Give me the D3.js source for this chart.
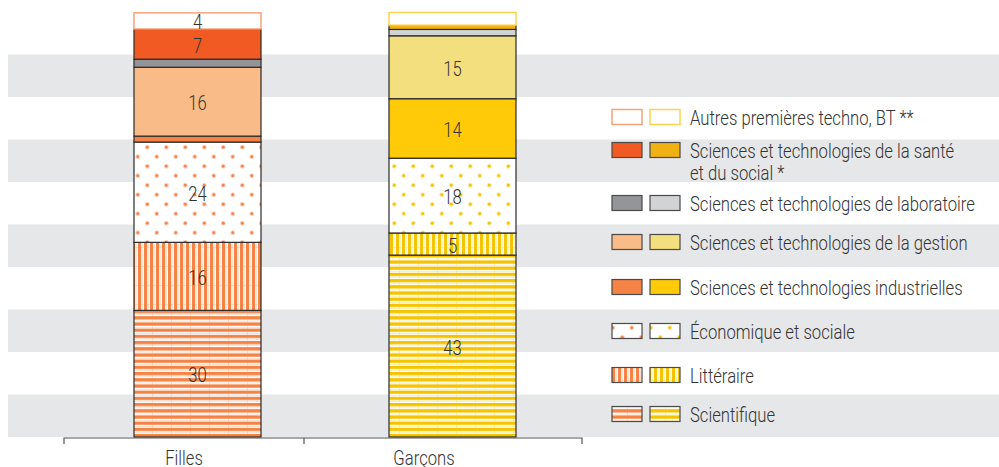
<!DOCTYPE html>
<html>
<head>
<meta charset="utf-8">
<script src="https://cdn.jsdelivr.net/npm/d3@7"></script>
<style>
  html, body { margin: 0; padding: 0; background: #ffffff; }
  svg { display: block; }
  text { font-family: Roboto, "Liberation Sans", sans-serif; font-weight: 300; fill: #333333; }
</style>
</head>
<body>
<svg id="chart" width="999" height="467"></svg>
<script>
// ---------- DATA ----------
const categories = ["Filles", "Garçons"];
const seriesKeys = [
  "Scientifique",
  "Littéraire",
  "Économique et sociale",
  "Sciences et technologies industrielles",
  "Sciences et technologies de la gestion",
  "Sciences et technologies de laboratoire",
  "Sciences et technologies de la santé et du social *",
  "Autres premières techno, BT **"
];
const fillesValues  = [29.8, 16.0, 23.6, 1.4, 16.2, 1.9, 7.1, 3.8];
const garconsValues = [42.8, 5.2, 17.6, 14.0, 14.8, 1.5, 1.0, 3.0];
const legendLabels = [
  ["Autres premières techno, BT **"],
  ["Sciences et technologies de la santé", "et du social *"],
  ["Sciences et technologies de laboratoire"],
  ["Sciences et technologies de la gestion"],
  ["Sciences et technologies industrielles"],
  ["Économique et sociale"],
  ["Littéraire"],
  ["Scientifique"]
];

// ---------- STYLE / LAYOUT ----------
const W = 999, H = 467;
const FS = 19.5;
const orange = "#f58345", yellow = "#f5c400";
const styleF = [
  {fill: "url(#hs-o)"}, {fill: "url(#vs-o)"}, {fill: "url(#dt-o)"},
  {fill: "#f58345"}, {fill: "#f9bb87"}, {fill: "#939598"}, {fill: "#f15a22"},
  {fill: "#ffffff", stroke: "#f7a377"}
];
const styleG = [
  {fill: "url(#hs-y)"}, {fill: "url(#vs-y)"}, {fill: "url(#dt-y)"},
  {fill: "#ffcb08"}, {fill: "#f4df7e"}, {fill: "#d1d3d4"}, {fill: "#f0b114"},
  {fill: "#ffffff", stroke: "#fcd44a"}
];
const styles = {"Filles": styleF, "Garçons": styleG};
const legendRowY = [117, 150, 203, 242, 287, 331, 375, 414];

const svg = d3.select("#chart");
const defs = svg.append("defs");

// condensed text: measure natural width of a reference string, squeeze horizontally
const probe = svg.append("text").attr("font-size", FS).text("Sciences et technologies de laboratoire");
const SX = 285 / probe.node().getComputedTextLength();
probe.remove();

function ctext(parent, x, yy, lines, anchor) {
  const g = parent.append("g").attr("transform", `translate(${x},${yy}) scale(${SX},1)`);
  const t = g.append("text").attr("font-size", FS).attr("dominant-baseline", "central")
    .attr("text-anchor", anchor || "start");
  lines.forEach((line, li) => {
    t.append("tspan").attr("x", 0).attr("dy", li === 0 ? 0 : 22).text(line);
  });
  return t;
}

function hStripe(id, c) {
  const p = defs.append("pattern").attr("id", id).attr("patternUnits", "userSpaceOnUse")
    .attr("width", 19).attr("height", 6.2);
  p.append("rect").attr("width", 19).attr("height", 6.2).attr("fill", "#fff");
  p.append("rect").attr("y", 0).attr("width", 19).attr("height", 3.3).attr("fill", c);
  p.append("rect").attr("y", 4.5).attr("width", 19).attr("height", 0.8).attr("fill", c).attr("opacity", 0.3);
  p.append("rect").attr("x", 0).attr("width", 0.8).attr("height", 6.2).attr("fill", c).attr("opacity", 0.25);
}
function vStripe(id, c) {
  const p = defs.append("pattern").attr("id", id).attr("patternUnits", "userSpaceOnUse")
    .attr("width", 6).attr("height", 19);
  p.append("rect").attr("width", 6).attr("height", 19).attr("fill", "#fff");
  p.append("rect").attr("x", 0).attr("width", 3.2).attr("height", 19).attr("fill", c);
  p.append("rect").attr("x", 4.3).attr("width", 0.8).attr("height", 19).attr("fill", c).attr("opacity", 0.3);
  p.append("rect").attr("y", 0).attr("width", 6).attr("height", 0.8).attr("fill", c).attr("opacity", 0.25);
}
function dots(id, c) {
  const p = defs.append("pattern").attr("id", id).attr("patternUnits", "userSpaceOnUse")
    .attr("width", 19).attr("height", 19);
  p.append("rect").attr("width", 19).attr("height", 19).attr("fill", "#fff");
  [[4.75, 4.75], [14.25, 14.25]].forEach(([cx, cy]) => {
    p.append("circle").attr("cx", cx).attr("cy", cy).attr("r", 2.5).attr("fill", c).attr("opacity", 0.3);
    p.append("circle").attr("cx", cx).attr("cy", cy).attr("r", 1.4).attr("fill", c);
  });
}
hStripe("hs-o", orange); hStripe("hs-y", yellow);
vStripe("vs-o", orange); vStripe("vs-y", yellow);
dots("dt-o", orange); dots("dt-y", yellow);

// ---------- SCALES ----------
const y = d3.scaleLinear().domain([0, 100]).range([437, 12]);
const xBar = d3.scaleBand().domain(categories).range([70, 580]);
const xLab = d3.scaleBand().domain(categories).range([64, 544]);
const barW = 127;

// background bands
svg.append("g").selectAll("rect").data(d3.range(0, 100, 20)).join("rect")
  .attr("x", 8).attr("width", W - 8)
  .attr("y", d => y(d + 10)).attr("height", d => y(d) - y(d + 10))
  .attr("fill", "#e6e7e8");

// stacked data
const table = categories.map((c, i) => {
  const vals = i === 0 ? fillesValues : garconsValues;
  const row = {cat: c};
  seriesKeys.forEach((k, j) => row[k] = vals[j]);
  return row;
});
const stacked = d3.stack().keys(seriesKeys)(table);

const gBars = svg.append("g");
const gLabels = svg.append("g");
stacked.forEach((layer, si) => {
  layer.forEach((seg, ci) => {
    const cat = categories[ci];
    const st = styles[cat][si];
    const x0 = xBar(cat) + (xBar.bandwidth() - barW) / 2;
    gBars.append("rect")
      .attr("x", x0).attr("width", barW)
      .attr("y", y(seg[1])).attr("height", y(seg[0]) - y(seg[1]))
      .attr("fill", st.fill)
      .attr("stroke", st.stroke || "#2a2a2a")
      .attr("stroke-width", st.stroke ? 1.5 : 1.2);
    const v = seg[1] - seg[0];
    if (v >= 3.5) {
      ctext(gLabels, x0 + barW / 2, (y(seg[0]) + y(seg[1])) / 2 + 1, [String(Math.round(v))], "middle");
    }
  });
});

// x axis
const gAxis = svg.append("g");
gAxis.append("path")
  .attr("d", d3.line()([[64, 444], [64, 438], [582, 438], [582, 444]]))
  .attr("fill", "none").attr("stroke", "#555").attr("stroke-width", 1.2);
gAxis.append("line").attr("x1", 304).attr("x2", 304).attr("y1", 438).attr("y2", 444)
  .attr("stroke", "#555").attr("stroke-width", 1.2);
categories.forEach(c => ctext(gAxis, xLab(c) + xLab.bandwidth() / 2, 457, [c], "middle"));

// legend
const legendOrder = seriesKeys.slice().reverse();
const gLeg = svg.append("g");
legendOrder.forEach((k, i) => {
  const si = seriesKeys.indexOf(k);
  const cy = legendRowY[i];
  [[612, styleF[si]], [650, styleG[si]]].forEach(([sx, st]) => {
    gLeg.append("rect")
      .attr("x", sx).attr("y", cy - 7.5).attr("width", 30).attr("height", 15)
      .attr("fill", st.fill)
      .attr("stroke", st.stroke || "#4a4a4a")
      .attr("stroke-width", st.stroke ? 1.5 : 1.2);
  });
  ctext(gLeg, 690, cy, legendLabels[i], "start");
});
</script>
</body>
</html>
